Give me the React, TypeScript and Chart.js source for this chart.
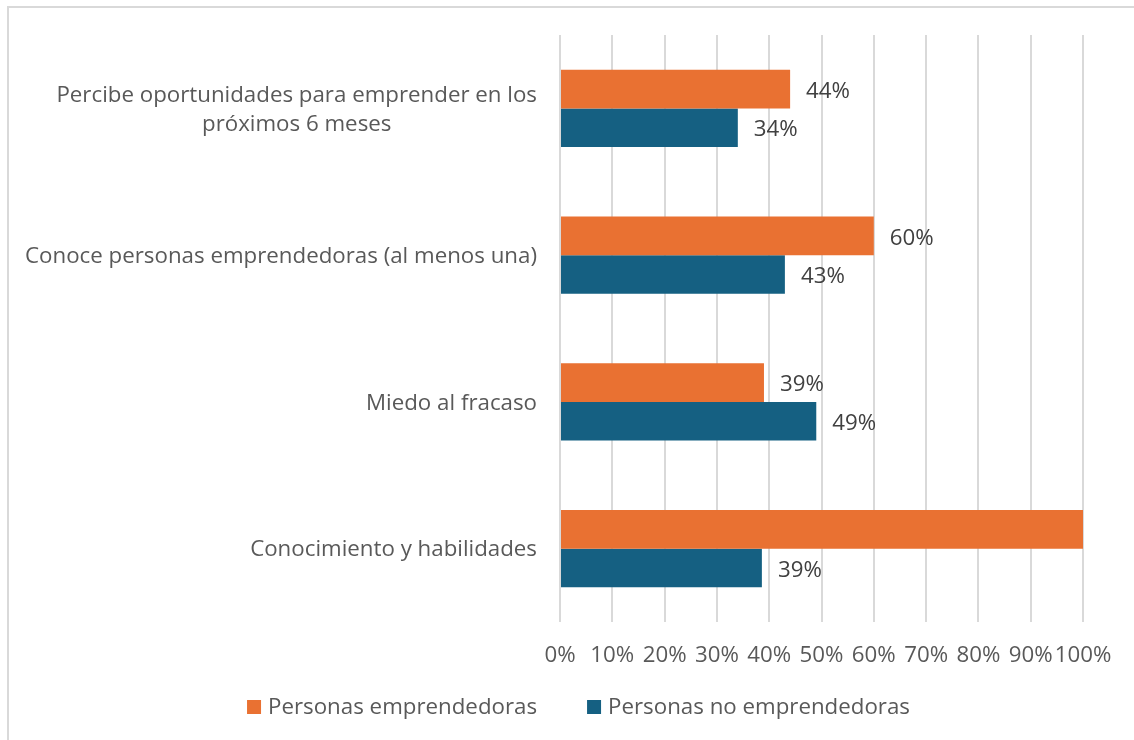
import React, { useEffect, useRef } from "react";
import { Chart, registerables } from "chart.js";

Chart.register(...registerables);

const categoryLines: string[][] = [
  ["Percibe oportunidades para emprender en los", "próximos 6 meses"],
  ["Conoce personas emprendedoras (al menos una)"],
  ["Miedo al fracaso"],
  ["Conocimiento y habilidades"],
];
const categories = categoryLines.map((l) => l.join(" "));
const seriesNames = ["Personas emprendedoras", "Personas no emprendedoras"];
const emprendedoras = [44, 60, 39, 100];
const noEmprendedoras = [34, 43, 49, 38.6];
const seriesColors = ["#E97132", "#156082"];
const tickMin = 0;
const tickMax = 100;
const tickStep = 10;

const FONT = "'Open Sans', sans-serif";
const FONT_SIZE = 22.3;
const TEXT_GRAY = "#595959";
const LABEL_DARK = "#404040";

const categoryLabelPlugin = {
  id: "categoryLabels",
  afterDraw(chart: any) {
    const { ctx } = chart;
    const yScale = chart.scales.y;
    const right = chart.chartArea.left - 23;
    const lineH = 29;
    ctx.save();
    ctx.font = `${FONT_SIZE}px ${FONT}`;
    ctx.fillStyle = TEXT_GRAY;
    ctx.textBaseline = "middle";
    ctx.textAlign = "center";
    categoryLines.forEach((lines, i) => {
      const y = yScale.getPixelForValue(i) + 1.5;
      const maxW = Math.max(...lines.map((t) => ctx.measureText(t).width));
      const cx = right - maxW / 2;
      lines.forEach((t, j) => {
        ctx.fillText(t, cx, y + (j - (lines.length - 1) / 2) * lineH);
      });
    });
    ctx.restore();
  },
};

const dataLabelPlugin = {
  id: "dataLabels",
  afterDatasetsDraw(chart: any) {
    const { ctx } = chart;
    ctx.save();
    ctx.font = `${FONT_SIZE}px ${FONT}`;
    ctx.fillStyle = LABEL_DARK;
    ctx.textBaseline = "middle";
    ctx.textAlign = "left";
    chart.data.datasets.forEach((ds: any, di: number) => {
      const meta = chart.getDatasetMeta(di);
      meta.data.forEach((el: any, i: number) => {
        const text = Math.round(ds.data[i]) + "%";
        const w = ctx.measureText(text).width;
        const x = el.x + 16;
        if (x + w > chart.width) return;
        ctx.fillText(text, x, el.y + 2.5);
      });
    });
    ctx.restore();
  },
};

const legendPlugin = {
  id: "customLegend",
  afterDraw(chart: any) {
    const { ctx } = chart;
    const box = 14;
    const gap = 7;
    const itemGap = 50;
    const centerX = 578.5;
    const cy = 707.5;
    ctx.save();
    ctx.font = `${FONT_SIZE}px ${FONT}`;
    ctx.textBaseline = "middle";
    ctx.textAlign = "left";
    const widths = seriesNames.map((n) => box + gap + ctx.measureText(n).width);
    const total = widths.reduce((a, b) => a + b, 0) + itemGap * (widths.length - 1);
    let x = centerX - total / 2;
    seriesNames.forEach((n, i) => {
      ctx.fillStyle = seriesColors[i];
      ctx.fillRect(x, cy - box / 2 - 0.5, box, box);
      ctx.fillStyle = TEXT_GRAY;
      ctx.fillText(n, x + box + gap, cy);
      x += widths[i] + itemGap;
    });
    ctx.restore();
  },
};

export default function App() {
  const canvasRef = useRef<HTMLCanvasElement | null>(null);

  useEffect(() => {
    if (!canvasRef.current) return;
    const chart = new Chart(canvasRef.current, {
      type: "bar",
      data: {
        labels: categories,
        datasets: [
          {
            label: seriesNames[0],
            data: emprendedoras,
            backgroundColor: seriesColors[0],
            categoryPercentage: 0.525,
            barPercentage: 1,
          },
          {
            label: seriesNames[1],
            data: noEmprendedoras,
            backgroundColor: seriesColors[1],
            categoryPercentage: 0.525,
            barPercentage: 1,
          },
        ],
      },
      options: {
        indexAxis: "y",
        animation: false,
        responsive: false,
        maintainAspectRatio: false,
        layout: { padding: { top: 35, right: 51, bottom: 68, left: 0 } },
        plugins: {
          legend: { display: false },
          tooltip: { enabled: false },
        },
        scales: {
          x: {
            min: tickMin,
            max: tickMax,
            grid: { color: "#d9d9d9", lineWidth: 2, drawTicks: false },
            border: { display: false },
            ticks: {
              stepSize: tickStep,
              autoSkip: false,
              maxRotation: 0,
              padding: 20.5,
              color: TEXT_GRAY,
              font: { family: FONT, size: FONT_SIZE },
              callback: (v: any) => v + "%",
            },
            afterFit: (s: any) => {
              s.height = 50;
            },
          },
          y: {
            grid: { display: false },
            border: { display: false },
            ticks: { display: false },
            afterFit: (s: any) => {
              s.width = 560;
            },
          },
        },
      },
      plugins: [categoryLabelPlugin, dataLabelPlugin, legendPlugin],
    });
    return () => chart.destroy();
  }, []);

  return (
    <div
      style={{
        position: "fixed",
        left: 0,
        top: 0,
        width: 1134,
        height: 740,
        overflow: "hidden",
        background: "#ffffff",
      }}
    >
      <div
        style={{
          position: "absolute",
          left: 7,
          top: 6,
          width: 1200,
          height: 800,
          borderLeft: "2px solid #d9d9d9",
          borderTop: "2px solid #d9d9d9",
        }}
      />
      <canvas
        ref={canvasRef}
        width={1134}
        height={740}
        style={{ position: "absolute", left: 0, top: 0, width: 1134, height: 740 }}
      />
    </div>
  );
}
